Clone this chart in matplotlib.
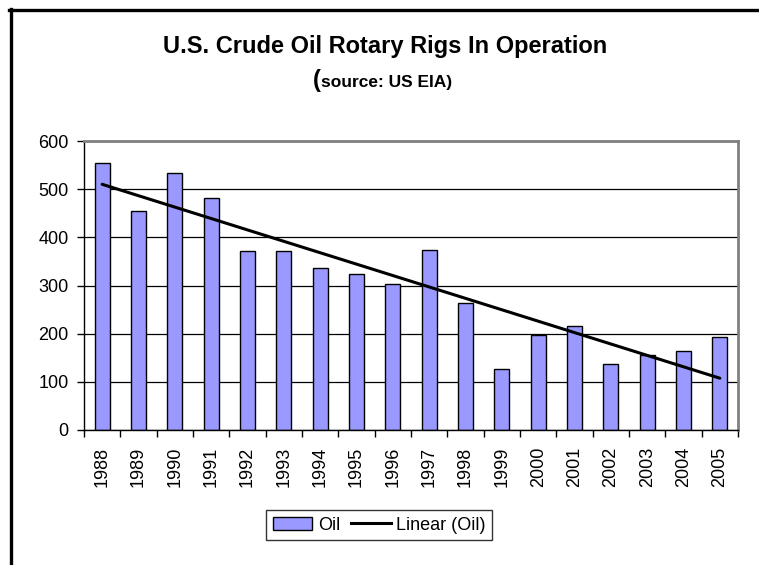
import numpy as np
import matplotlib
matplotlib.use("Agg")
import matplotlib.pyplot as plt
from matplotlib.lines import Line2D
from matplotlib.patches import Patch

plt.rcParams['font.family'] = ['Liberation Sans', 'DejaVu Sans']

# data
years = ["1988", "1989", "1990", "1991", "1992", "1993", "1994", "1995", "1996",
         "1997", "1998", "1999", "2000", "2001", "2002", "2003", "2004", "2005"]
oil = [555, 454, 533, 482, 371, 371, 336, 324, 304,
       374, 264, 127, 197, 216, 136, 156, 165, 194]

bar_color = "#9999FF"

W, H = 759, 565
fig = plt.figure(figsize=(W / 100, H / 100), dpi=100)
ax = fig.add_axes([84 / W, 1 - 430 / H, (738 - 84) / W, (430 - 141) / H])

x = np.arange(len(years))
ax.bar(x, oil, width=0.42, color=bar_color, edgecolor="black", linewidth=1.0, zorder=2)

# Excel-style linear trendline
slope, intercept = np.polyfit(x, oil, 1)
ax.plot(x[[0, -1]], slope * x[[0, -1]] + intercept, color="black", linewidth=2.2,
        zorder=3, solid_capstyle="round")

ax.set_xlim(-0.5, len(years) - 0.5)
ax.set_ylim(0, 600)
ax.set_yticks(range(0, 601, 100))
ax.yaxis.grid(True, color="black", linewidth=0.9, zorder=0)
ax.set_axisbelow(True)

# labels centred under bars, tick marks at category boundaries
ax.set_xticks(x)
ax.set_xticklabels(years, rotation=90, fontsize=13)
ax.tick_params(axis="x", which="major", length=0, pad=12)
ax.set_xticks(np.arange(-0.5, len(years)), minor=True)
ax.tick_params(axis="x", which="minor", length=5, width=1, direction="out")
ax.tick_params(axis="y", length=5, width=1, direction="out", labelsize=13, pad=6)

for side in ("top", "right"):
    ax.spines[side].set_color("#808080")
    ax.spines[side].set_linewidth(2)
for side in ("left", "bottom"):
    ax.spines[side].set_color("black")
    ax.spines[side].set_linewidth(1)

# titles
fig.text(385 / W, 1 - 53 / H, "U.S. Crude Oil Rotary Rigs In Operation",
         ha="center", va="baseline", fontsize=17, fontweight="bold")
fig.text(321 / W, 1 - 87 / H, "(", ha="right", va="baseline", fontsize=17, fontweight="bold")
fig.text(321 / W, 1 - 87 / H, "source: US EIA)", ha="left", va="baseline",
         fontsize=12.5, fontweight="bold")

# legend
handles = [Patch(facecolor=bar_color, edgecolor="black", linewidth=1.0),
           Line2D([0], [0], color="black", linewidth=2.2)]
leg = fig.legend(handles, ["Oil", "Linear (Oil)"], loc="center",
                 bbox_to_anchor=(379 / W, 1 - 525 / H), ncol=2, fontsize=13,
                 frameon=True, fancybox=False, handlelength=2.2, handletextpad=0.3,
                 columnspacing=0.6, borderpad=0.35)
leg.get_frame().set_edgecolor("black")
leg.get_frame().set_linewidth(1)

# outer chart border (top and left edges visible)
fig.add_artist(Line2D([9 / W, 1], [1 - 10 / H, 1 - 10 / H], color="black", linewidth=2.4,
                      transform=fig.transFigure))
fig.add_artist(Line2D([10.5 / W, 10.5 / W], [0, 1 - 9 / H], color="black", linewidth=2.4,
                      transform=fig.transFigure))

fig.savefig("out.png", dpi=100)
